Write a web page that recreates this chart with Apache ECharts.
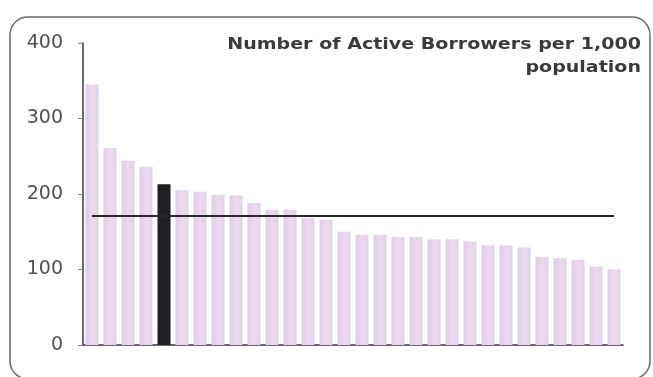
<!DOCTYPE html>
<html>
<head>
<meta charset="utf-8">
<script src="https://cdn.jsdelivr.net/npm/echarts@6/dist/echarts.min.js"></script>
<style>
html,body{margin:0;padding:0;background:#fff;}
#chart{width:653px;height:377px;}
</style>
</head>
<body>
<div id="chart"></div>
<script>
// Data
var categories = ['1','2','3','4','5','6','7','8','9','10','11','12','13','14','15','16','17','18','19','20','21','22','23','24','25','26','27','28','29','30'];
var borrowers = [345,261,244,236,213,205,203,199,198,188,179,179,168,166,150,146,146,143,143,140,140,137,132,132,129,117,115,113,104,100];
var highlightIndex = 4;
var averageValue = 171;
var yTicks = [0,100,200,300,400];
var titleText = 'Number of Active Borrowers per 1,000\npopulation';

var chart = echarts.init(document.getElementById('chart'));

var barGrad = new echarts.graphic.LinearGradient(0,0,1,0,[
  {offset:0,color:'#dacfe7'},
  {offset:0.5,color:'#eed8ee'},
  {offset:1,color:'#dcd5ea'}
]);

var barData = borrowers.map(function(v,i){
  if(i===highlightIndex){
    return {value:v, itemStyle:{color:'#1f1f24'}};
  }
  return {value:v};
});
var avgData = categories.map(function(){ return averageValue; });

chart.setOption({
  animation:false,
  backgroundColor:'#ffffff',
  graphic:[{
    type:'rect',
    shape:{x:10,y:17,width:640,height:362,r:18},
    style:{fill:'none',stroke:'#6a6a6a',lineWidth:1.5},
    silent:true,
    z:-1
  },{
    type:'text',
    x:641,
    y:34,
    scaleX:1.27,
    silent:true,
    style:{
      text:titleText,
      x:0,y:0,
      textAlign:'right',
      textVerticalAlign:'top',
      fontFamily:'DejaVu Sans',
      fontWeight:'bold',
      fontSize:15,
      lineHeight:23,
      fill:'#3a3a3a'
    }
  }],
  grid:{left:83,right:30,top:43,bottom:32,containLabel:false},
  xAxis:{
    type:'category',
    data:categories,
    axisLine:{lineStyle:{color:'#3a3a3a',width:1.5}},
    axisTick:{show:false},
    axisLabel:{show:false},
    splitLine:{show:false}
  },
  yAxis:{
    type:'value',
    min:0,max:400,interval:100,
    axisLine:{show:true,lineStyle:{color:'#3a3a3a',width:1.5}},
    axisTick:{show:true,length:5,lineStyle:{color:'#888'}},
    axisLabel:{
      fontFamily:'DejaVu Sans',
      fontSize:19,
      color:'#505050',
      margin:20,
      formatter:function(v){ return yTicks.indexOf(v)>=0 ? String(v) : ''; }
    },
    splitLine:{show:false}
  },
  series:[{
    type:'bar',
    data:barData,
    barWidth:13,
    itemStyle:{color:barGrad}
  },{
    type:'line',
    data:avgData,
    symbol:'none',
    lineStyle:{color:'#26262c',width:2},
    z:5
  }]
});
</script>
</body>
</html>
